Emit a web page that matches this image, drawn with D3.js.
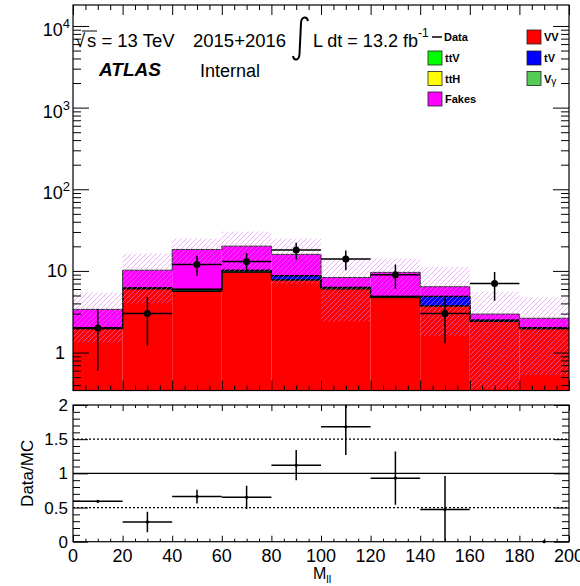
<!DOCTYPE html>
<html>
<head>
<meta charset="utf-8">
<!-- Load d3 -->
<script src="https://d3js.org/d3.v7.min.js"></script>
<title>M_ll ratio plot</title>
<style type="text/css">
  body { margin: 0; background: #ffffff; }
  text { font-family: "Liberation Sans", Arial, Helvetica, sans-serif; }
</style>
</head>
<body>
<div id="myvisualization"></div>

<script>

// bin lower edges (GeV), every bin is 20 wide
var binLow = [0, 20, 40, 60, 80, 100, 120, 140, 160, 180];
var binWidth = 20;

// stacked backgrounds, bottom to top
var vv    = [1.95, 6.0, 5.6, 9.6, 7.7, 6.0, 4.7, 3.7, 2.4, 1.95];
var ttv   = [0.02, 0.1, 0.2, 0.3, 0.1, 0.15, 0.1, 0.05, 0.05, 0.03];
var tv    = [0.02, 0.05, 0.1, 0.2, 0.9, 0.1, 0.05, 1.1, 0.03, 0.02];
var tth   = [0.01, 0.03, 0.05, 0.05, 0.03, 0.03, 0.03, 0.02, 0.01, 0.01];
var vgam  = [0.01, 0.02, 0.05, 0.05, 0.02, 0.02, 0.02, 0.03, 0.01, 0.02];
var fakes = [1.37, 4.0, 12.3, 9.9, 7.2, 2.0, 4.7, 1.5, 0.46, 0.6];

// total MC uncertainty (hatched band)
var mcErr = [2.05, 6.2, 6.7, 10.2, 9.0, 5.9, 4.6, 4.8, 2.6, 2.1];

// data
var dataVal = [2, 3, 12, 13, 18, 14, 9, 3, 7, 0];
var dataErr = [1.4, 1.8, 3.3, 3.5, 4.2, 3.8, 3.0, 1.7, 2.7, 0];

// ratio panel
var ratioVal = [0.59, 0.29, 0.66, 0.65, 1.12, 1.68, 0.93, 0.47, null, 0];
var ratioErr = [0.01, 0.15, 0.1, 0.17, 0.22, 0.41, 0.39, 0.49, null, 0];

// axis ticks
var logMajor = [1, 10, 100, 1000, 10000];
var logMinor = [0.4, 0.5, 0.6, 0.7, 0.8, 0.9, 2, 3, 4, 5, 6, 7, 8, 9,
                20, 30, 40, 50, 60, 70, 80, 90, 200, 300, 400, 500, 600, 700, 800, 900,
                2000, 3000, 4000, 5000, 6000, 7000, 8000, 9000];
var xMajor = [0, 20, 40, 60, 80, 100, 120, 140, 160, 180, 200];
var ratioMajor = [0, 0.5, 1, 1.5, 2];

var colors = {vv: "#ff0000", ttv: "#00ff00", tv: "#0000ff", tth: "#ffff00", vgam: "#55cc55", fakes: "#ff00ff"};

// set the dimensions
var width = 580, height = 586;
var left = 73, right = 569;
var topY0 = 5, topY1 = 390.5;
var ratY0 = 405, ratY1 = 541.7;

var svg = d3.select("#myvisualization").append("svg")
  .attr("width", width)
  .attr("height", height);

var x = d3.scaleLinear().domain([0, 200]).range([left, right]);
var y = d3.scaleLog().domain([0.343, 18070]).range([topY1, topY0]);
var yr = d3.scaleLinear().domain([0, 2]).range([ratY1, ratY0]);

var xMinor = d3.range(0, 201, 5).filter(function(d) { return d % 20 != 0; });
var ratioMinor = d3.range(0, 2.001, 0.1).map(function(d) { return +d.toFixed(1); })
  .filter(function(d) { return ratioMajor.indexOf(d) < 0; });

var defs = svg.append("defs");
defs.append("clipPath").attr("id", "clipTop")
  .append("rect").attr("x", left).attr("y", topY0).attr("width", right - left).attr("height", topY1 - topY0);
defs.append("clipPath").attr("id", "clipRat")
  .append("rect").attr("x", left).attr("y", ratY0).attr("width", right - left).attr("height", ratY1 - ratY0);

// hatch pattern for the uncertainty band
var pat = defs.append("pattern").attr("id", "hatch")
  .attr("patternUnits", "userSpaceOnUse")
  .attr("width", 5).attr("height", 5);
pat.append("path")
  .attr("d", "M-1,1 l2,-2 M0,5 l5,-5 M4,6 l2,-2")
  .attr("stroke", "#e07cf0")
  .attr("stroke-opacity", 0.6)
  .attr("stroke-width", 1);

// ---------------- top panel ----------------
var gTop = svg.append("g").attr("clip-path", "url(#clipTop)");

var comps = [
  {key: "vv", vals: vv},
  {key: "ttv", vals: ttv},
  {key: "tv", vals: tv},
  {key: "tth", vals: tth},
  {key: "vgam", vals: vgam},
  {key: "fakes", vals: fakes}
];

// cumulative stack
var base = binLow.map(function() { return 0; });
comps.forEach(function(c) {
  c.lo = base.slice();
  c.hi = base.map(function(b, i) { return b + c.vals[i]; });
  base = c.hi.slice();
});
var total = base;

comps.forEach(function(c) {
  gTop.append("g").selectAll("rect")
    .data(binLow)
    .enter().append("rect")
    .attr("x", function(d) { return x(d); })
    .attr("width", function(d) { return x(d + binWidth) - x(d); })
    .attr("y", function(d, i) { return y(c.hi[i]); })
    .attr("height", function(d, i) {
      var lo = c.lo[i] > 0 ? y(c.lo[i]) : topY1;
      return lo - y(c.hi[i]);
    })
    .style("fill", colors[c.key]);
});

// outlines of every stacked histogram
comps.forEach(function(c) {
  var p = "M" + x(binLow[0]) + "," + y(c.hi[0]);
  binLow.forEach(function(d, i) {
    p += "H" + x(d + binWidth);
    if (i < binLow.length - 1) p += "V" + y(c.hi[i + 1]);
  });
  gTop.append("path")
    .attr("d", p)
    .attr("fill", "none")
    .attr("stroke", c.key == "fakes" ? "#333333" : "#000000")
    .attr("stroke-width", 1);
});

// uncertainty band
gTop.append("g").selectAll("rect")
  .data(binLow)
  .enter().append("rect")
  .attr("x", function(d) { return x(d); })
  .attr("width", function(d) { return x(d + binWidth) - x(d); })
  .attr("y", function(d, i) { return y(total[i] + mcErr[i]); })
  .attr("height", function(d, i) {
    var lo = total[i] - mcErr[i];
    var ylo = lo > 0.343 ? y(lo) : topY1;
    return ylo - y(total[i] + mcErr[i]);
  })
  .style("fill", "url(#hatch)");

// data points
var gData = gTop.append("g");
binLow.forEach(function(d, i) {
  if (dataVal[i] <= 0) return;
  var cx = x(d + binWidth / 2), cy = y(dataVal[i]);
  gData.append("line")
    .attr("x1", x(d)).attr("x2", x(d + binWidth))
    .attr("y1", cy).attr("y2", cy)
    .attr("stroke", "black").attr("stroke-width", 1.5);
  var lo = dataVal[i] - dataErr[i];
  gData.append("line")
    .attr("x1", cx).attr("x2", cx)
    .attr("y1", y(dataVal[i] + dataErr[i]))
    .attr("y2", lo > 0.343 ? y(lo) : topY1)
    .attr("stroke", "black").attr("stroke-width", 1.5);
  gData.append("circle")
    .attr("cx", cx).attr("cy", cy).attr("r", 3.5)
    .attr("fill", "black");
});

// axes of top panel (ROOT style, ticks inside)
svg.append("g").attr("transform", "translate(" + left + ",0)")
  .call(d3.axisRight(y).tickValues(logMajor).tickSize(16).tickFormat(""));
svg.append("g").attr("transform", "translate(" + left + ",0)")
  .call(d3.axisRight(y).tickValues(logMinor).tickSize(8).tickFormat(""));
svg.append("g").attr("transform", "translate(" + right + ",0)")
  .call(d3.axisLeft(y).tickValues(logMajor).tickSize(16).tickFormat(""));
svg.append("g").attr("transform", "translate(" + right + ",0)")
  .call(d3.axisLeft(y).tickValues(logMinor).tickSize(8).tickFormat(""));
svg.append("g").attr("transform", "translate(0," + topY1 + ")")
  .call(d3.axisTop(x).tickValues(xMajor).tickSize(10).tickFormat(""));
svg.append("g").attr("transform", "translate(0," + topY1 + ")")
  .call(d3.axisTop(x).tickValues(xMinor).tickSize(5).tickFormat(""));
svg.append("g").attr("transform", "translate(0," + topY0 + ")")
  .call(d3.axisBottom(x).tickValues(xMajor).tickSize(10).tickFormat(""));
svg.append("g").attr("transform", "translate(0," + topY0 + ")")
  .call(d3.axisBottom(x).tickValues(xMinor).tickSize(5).tickFormat(""));

svg.selectAll(".domain").remove();

svg.append("rect")
  .attr("x", left).attr("y", topY0)
  .attr("width", right - left).attr("height", topY1 - topY0)
  .attr("fill", "none").attr("stroke", "black").attr("stroke-width", 1.2);

// log labels
logMajor.forEach(function(v) {
  var e = Math.round(Math.log10(v));
  if (e >= 2) {
    var t = svg.append("text")
      .attr("x", 70).attr("y", y(v) + 10)
      .attr("text-anchor", "end")
      .style("font-size", "18px");
    t.append("tspan").text("10");
    t.append("tspan").attr("dy", -8).style("font-size", "13px").text(e);
  } else {
    svg.append("text")
      .attr("x", e == 1 ? 67 : 65).attr("y", y(v) + 6.5)
      .attr("text-anchor", "end")
      .style("font-size", "18px")
      .text(e == 1 ? "10" : "1");
  }
});

// ---------------- ratio panel ----------------
var gRat = svg.append("g").attr("clip-path", "url(#clipRat)");

[0.5, 1.5].forEach(function(v) {
  gRat.append("line")
    .attr("x1", left).attr("x2", right)
    .attr("y1", yr(v)).attr("y2", yr(v))
    .attr("stroke", "black").attr("stroke-width", 1.2)
    .attr("stroke-dasharray", "2,2");
});
gRat.append("line")
  .attr("x1", left).attr("x2", right)
  .attr("y1", yr(1)).attr("y2", yr(1))
  .attr("stroke", "black").attr("stroke-width", 1.2);

binLow.forEach(function(d, i) {
  if (ratioVal[i] == null) return;
  var cx = x(d + binWidth / 2), cy = yr(ratioVal[i]);
  if (ratioVal[i] > 0) {
    gRat.append("line")
      .attr("x1", x(d)).attr("x2", x(d + binWidth))
      .attr("y1", cy).attr("y2", cy)
      .attr("stroke", "black").attr("stroke-width", 1.5);
    gRat.append("line")
      .attr("x1", cx).attr("x2", cx)
      .attr("y1", yr(ratioVal[i] + ratioErr[i]))
      .attr("y2", yr(ratioVal[i] - ratioErr[i]))
      .attr("stroke", "black").attr("stroke-width", 1.5);
  }
  svg.append("circle")
    .attr("cx", cx).attr("cy", cy).attr("r", 1.6)
    .attr("fill", "black");
});

svg.append("g").attr("transform", "translate(" + left + ",0)")
  .call(d3.axisRight(yr).tickValues(ratioMajor).tickSize(15).tickFormat(""));
svg.append("g").attr("transform", "translate(" + left + ",0)")
  .call(d3.axisRight(yr).tickValues(ratioMinor).tickSize(7).tickFormat(""));
svg.append("g").attr("transform", "translate(" + right + ",0)")
  .call(d3.axisLeft(yr).tickValues(ratioMajor).tickSize(15).tickFormat(""));
svg.append("g").attr("transform", "translate(" + right + ",0)")
  .call(d3.axisLeft(yr).tickValues(ratioMinor).tickSize(7).tickFormat(""));
svg.append("g").attr("transform", "translate(0," + ratY1 + ")")
  .call(d3.axisTop(x).tickValues(xMajor).tickSize(6).tickFormat(""));
svg.append("g").attr("transform", "translate(0," + ratY1 + ")")
  .call(d3.axisTop(x).tickValues(xMinor).tickSize(3).tickFormat(""));
svg.append("g").attr("transform", "translate(0," + ratY0 + ")")
  .call(d3.axisBottom(x).tickValues(xMajor).tickSize(6).tickFormat(""));
svg.append("g").attr("transform", "translate(0," + ratY0 + ")")
  .call(d3.axisBottom(x).tickValues(xMinor).tickSize(3).tickFormat(""));

svg.selectAll(".domain").remove();

svg.append("rect")
  .attr("x", left).attr("y", ratY0)
  .attr("width", right - left).attr("height", ratY1 - ratY0)
  .attr("fill", "none").attr("stroke", "black").attr("stroke-width", 1.2);

ratioMajor.forEach(function(v) {
  svg.append("text")
    .attr("x", 68).attr("y", yr(v) + 6)
    .attr("text-anchor", "end")
    .style("font-size", "17px")
    .text(v);
});

xMajor.forEach(function(v) {
  svg.append("text")
    .attr("x", x(v)).attr("y", 562)
    .attr("text-anchor", "middle")
    .style("font-size", "18px")
    .text(v);
});

// axis titles
svg.append("text")
  .attr("transform", "rotate(-90)")
  .attr("x", -(ratY0 + ratY1) / 2)
  .attr("y", 33)
  .attr("text-anchor", "middle")
  .style("font-size", "17px")
  .text("Data/MC");

var xt = svg.append("text")
  .attr("x", 313).attr("y", 579)
  .style("font-size", "16px");
xt.append("tspan").text("M");
xt.append("tspan").attr("dy", 4).style("font-size", "11px").text("ll");

// ---------------- labels and legend ----------------
svg.append("text")
  .attr("x", 75).attr("y", 47)
  .style("font-size", "18.5px")
  .text("\u221A");
svg.append("text")
  .attr("x", 87).attr("y", 47)
  .style("font-size", "18.5px")
  .text("s = 13 TeV");
svg.append("text")
  .attr("x", 193).attr("y", 47)
  .style("font-size", "18.5px")
  .text("2015+2016");
// overline of the square root
svg.append("line")
  .attr("x1", 82).attr("x2", 97)
  .attr("y1", 31).attr("y2", 31)
  .attr("stroke", "black").attr("stroke-width", 1);

// integral sign
svg.append("path")
  .attr("d", "M308,21 C307,16 301.5,16 301,23 L299.5,54 C299,61 294,61 293,56")
  .attr("fill", "none")
  .attr("stroke", "black")
  .attr("stroke-width", 2);
var lumi = svg.append("text")
  .attr("x", 313).attr("y", 47)
  .style("font-size", "18px");
lumi.append("tspan").text("L dt = 13.2 fb");
lumi.append("tspan").attr("dy", -10).style("font-size", "12px").text("-1");

svg.append("text")
  .attr("x", 99).attr("y", 76)
  .style("font-size", "19px")
  .style("font-weight", "bold")
  .style("font-style", "italic")
  .text("ATLAS");
svg.append("text")
  .attr("x", 200).attr("y", 77)
  .style("font-size", "18px")
  .text("Internal");

// legend
var legRows = [37, 58, 78.5, 99];
svg.append("line")
  .attr("x1", 432).attr("x2", 442)
  .attr("y1", legRows[0]).attr("y2", legRows[0])
  .attr("stroke", "black").attr("stroke-width", 1.5);
svg.append("text")
  .attr("x", 444).attr("y", legRows[0] + 4)
  .style("font-size", "11px").style("font-weight", "bold")
  .text("Data");

var legItems = [
  {key: "ttv", label: "ttV", col: 0, row: 1},
  {key: "tth", label: "ttH", col: 0, row: 2},
  {key: "fakes", label: "Fakes", col: 0, row: 3},
  {key: "vv", label: "VV", col: 1, row: 0},
  {key: "tv", label: "tV", col: 1, row: 1},
  {key: "vgam", label: "V", sub: "\u03B3", col: 1, row: 2}
];
legItems.forEach(function(d) {
  var bx = d.col == 0 ? 428 : 527;
  svg.append("rect")
    .attr("x", bx).attr("y", legRows[d.row] - 7)
    .attr("width", 14).attr("height", 14)
    .attr("fill", colors[d.key])
    .attr("stroke", "#222222").attr("stroke-width", 0.8);
  var t = svg.append("text")
    .attr("x", bx + 17).attr("y", legRows[d.row] + 4)
    .style("font-size", "11px").style("font-weight", "bold")
    .text(d.label);
  if (d.sub) {
    t.append("tspan").attr("dy", 2).style("font-size", "10px").style("font-weight", "normal").text(d.sub);
  }
});

</script>
</body>
</html>
